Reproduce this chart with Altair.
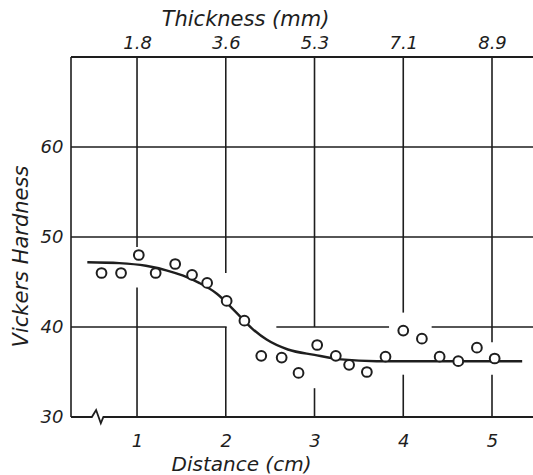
import altair as alt
import pandas as pd

# Measured hardness along the specimen
distance = [0.60, 0.82, 1.02, 1.21, 1.43, 1.62, 1.79, 2.01, 2.21, 2.40, 2.63, 2.82,
            3.03, 3.24, 3.39, 3.59, 3.80, 4.00, 4.21, 4.41, 4.62, 4.83, 5.03]
hardness = [46.0, 46.0, 48.0, 46.0, 47.0, 45.8, 44.9, 42.9, 40.7, 36.8, 36.6, 34.9,
            38.0, 36.8, 35.8, 35.0, 36.7, 39.6, 38.7, 36.7, 36.2, 37.7, 36.5]

# Hand-fitted trend curve
fit_distance = [0.44, 0.80, 1.10, 1.33, 1.52, 1.70, 1.90, 2.10, 2.30, 2.46, 2.70,
                3.00, 3.30, 3.70, 4.50, 5.34]
fit_hardness = [47.2, 47.1, 46.8, 46.3, 45.7, 44.9, 43.7, 41.8, 39.8, 38.6, 37.5,
                36.9, 36.4, 36.2, 36.2, 36.2]

# Axis ticks
distance_ticks = [1, 2, 3, 4, 5]
thickness_labels = ["1.8", "3.6", "5.3", "7.1", "8.9"]
hardness_ticks = [30, 40, 50, 60]

# Grid segments (broken where the data runs across them)
grid_x = [1.0, 1.0, 2.0, 2.0, 3.0, 3.0, 4.0, 4.0, 5.0, 5.0,
          0.256, 0.256, 0.256, 2.57, 4.32, 0.256]
grid_x2 = [1.0, 1.0, 2.0, 2.0, 3.0, 3.0, 4.0, 4.0, 5.0, 5.0,
           5.462, 5.462, 2.01, 3.84, 5.462, 0.256]
grid_y = [70, 44.4, 70, 40, 70, 33.2, 70, 34.7, 70, 34.7,
          60, 50, 40, 40, 40, 30]
grid_y2 = [48.9, 30, 46.0, 30, 40, 30, 41.6, 30, 38.3, 30,
           60, 50, 40, 40, 40, 70]

# Bottom axis line with a scale-break zigzag
base_x = [0.256, 0.491, 0.539, 0.592, 0.621, 5.462]
base_y = [30, 30, 30.78, 29.3, 30, 30]

INK = "#1e1e1e"
FONT = "DejaVu Sans"

xs = alt.Scale(domain=[0.256, 5.462], nice=False, zero=False)
ys = alt.Scale(domain=[30, 70], nice=False, zero=False)

pts = pd.DataFrame({"distance": distance, "hardness": hardness})
fit = pd.DataFrame({"distance": fit_distance, "hardness": fit_hardness})
grid = pd.DataFrame({"x": grid_x, "x2": grid_x2, "y": grid_y, "y2": grid_y2})
base = pd.DataFrame({"x": base_x, "y": base_y, "i": list(range(len(base_x)))})
top = pd.DataFrame({"x": [0.256], "x2": [5.462], "y": [70]})

label_expr = "[" + ",".join(f"'{s}'" for s in thickness_labels) + "][datum.value - 1]"

grid_layer = alt.Chart(grid).mark_rule(color=INK, strokeWidth=1.6).encode(
    x=alt.X("x:Q", scale=xs, axis=None),
    x2="x2:Q",
    y=alt.Y(
        "y:Q",
        scale=ys,
        axis=alt.Axis(
            values=hardness_ticks,
            domain=False,
            ticks=False,
            grid=False,
            labelFont=FONT,
            labelFontSize=18,
            labelFontStyle="italic",
            labelColor=INK,
            labelPadding=8,
            title="Vickers Hardness",
            titleFont=FONT,
            titleFontSize=21,
            titleFontStyle="italic",
            titleFontWeight="normal",
            titleColor=INK,
            titleAngle=270,
            titleX=-44,
            titleY=199,
            titleAlign="center",
            titleBaseline="alphabetic",
        ),
    ),
    y2="y2:Q",
)

top_layer = alt.Chart(top).mark_rule(color=INK, strokeWidth=2).encode(
    x=alt.X(
        "x:Q",
        scale=xs,
        axis=alt.Axis(
            orient="top",
            values=distance_ticks,
            labelExpr=label_expr,
            domain=False,
            ticks=False,
            grid=False,
            labelFont=FONT,
            labelFontSize=18,
            labelFontStyle="italic",
            labelColor=INK,
            labelBaseline="alphabetic",
            labelPadding=9,
            title="Thickness (mm)",
            titleFont=FONT,
            titleFontSize=21,
            titleFontStyle="italic",
            titleFontWeight="normal",
            titleColor=INK,
            titleX=174,
            titleY=-32,
            titleAlign="center",
            titleBaseline="alphabetic",
        ),
    ),
    x2="x2:Q",
    y=alt.Y("y:Q", scale=ys, axis=None),
)

base_layer = alt.Chart(base).mark_line(color=INK, strokeWidth=1.8).encode(
    x=alt.X("x:Q", scale=xs, axis=None),
    y=alt.Y("y:Q", scale=ys, axis=None),
    order="i:O",
)

fit_layer = alt.Chart(fit).mark_line(
    color=INK, strokeWidth=2.4, interpolate="monotone"
).encode(
    x=alt.X("distance:Q", scale=xs, axis=None),
    y=alt.Y("hardness:Q", scale=ys, axis=None),
)

point_layer = alt.Chart(pts).mark_point(
    shape="circle", size=95, filled=False, fill="white", fillOpacity=1,
    stroke=INK, strokeWidth=2, opacity=1,
).encode(
    x=alt.X(
        "distance:Q",
        scale=xs,
        axis=alt.Axis(
            orient="bottom",
            values=distance_ticks,
            domain=False,
            ticks=False,
            grid=False,
            labelFont=FONT,
            labelFontSize=18,
            labelFontStyle="italic",
            labelColor=INK,
            labelBaseline="alphabetic",
            labelPadding=29,
            title="Distance (cm)",
            titleFont=FONT,
            titleFontSize=20,
            titleFontStyle="italic",
            titleFontWeight="normal",
            titleColor=INK,
            titleX=170,
            titleY=53,
            titleAlign="center",
            titleBaseline="alphabetic",
        ),
    ),
    y=alt.Y("hardness:Q", scale=ys, axis=None),
)

chart = (
    alt.layer(grid_layer, top_layer, base_layer, fit_layer, point_layer)
    .resolve_axis(x="independent", y="independent")
    .properties(
        width=462,
        height=360,
        autosize="none",
        padding={"left": 71, "top": 57, "right": 0, "bottom": 58},
        background="white",
    )
    .configure_view(stroke=None)
)

chart.save("out.html", embed_options={"renderer": "svg", "actions": False})
